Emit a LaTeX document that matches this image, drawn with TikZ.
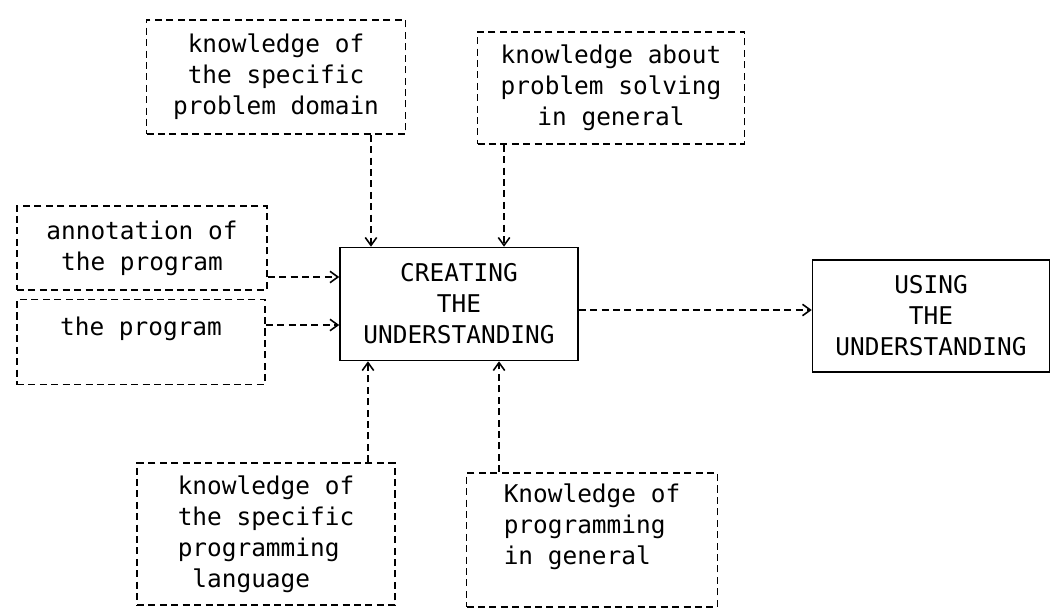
\documentclass[tikz,border=0pt]{standalone}
\usepackage{fontspec}
\usepackage{tikz}
\usetikzlibrary{arrows.meta}
\newfontfamily\plotfont{DejaVu Sans Mono}

\tikzset{
  kbox/.style={draw,dashed,dash pattern=on 4pt off 2.5pt,line width=0.9pt,
    font=\plotfont\fontsize{13.9}{17.6}\selectfont,inner sep=2pt},
  ubox/.style={draw,line width=0.9pt,
    font=\plotfont\fontsize{13.9}{17.6}\selectfont,align=center,inner sep=2pt},
  arr/.style={-{Straight Barb[length=4.5pt,width=6.5pt]},dashed,dash pattern=on 4pt off 2.5pt,line width=0.9pt}
}

\begin{document}
\begin{tikzpicture}[x=0.02cm,y=-0.02cm]
            \useasboundingbox (0,0) rectangle (1055,613);

            \node[ubox,minimum width=4.76cm,minimum height=2.26cm] (creat) at (459,304) {CREATING\\THE\\UNDERSTANDING};
            \node[ubox,minimum width=4.74cm,minimum height=2.24cm] (using) at (931,316) {USING\\THE\\UNDERSTANDING};

            \node[kbox,align=center,minimum width=5.18cm,minimum height=2.28cm] (domain) at (276,77) {knowledge of\\the specific\\problem domain};
            \node[kbox,align=center,minimum width=5.34cm,minimum height=2.24cm] (solving) at (611,88) {knowledge about\\problem solving\\in general};
            \node[kbox,align=center,minimum width=5cm,minimum height=1.68cm] (annot) at (142,248) {annotation of\\the program};
            \node[kbox,align=center,minimum width=4.96cm,minimum height=1.7cm] (prog) at (141,342) {the program\\\mbox{}};
            \node[kbox,align=left,minimum width=5.16cm,minimum height=2.84cm] (lang) at (266,534) {knowledge of\\the specific\\programming\\\hphantom{l}language};
            \node[kbox,align=left,minimum width=5.02cm,minimum height=2.68cm] (general) at (592,540) {Knowledge of\\programming\\in general\\\mbox{}};

            % knowledge flowing into the understanding
            \draw[arr] ([xshift=1.9cm]domain.south) -- ([xshift=1.9cm]domain.south |- creat.north);
            \draw[arr] ([xshift=-2.14cm]solving.south) -- ([xshift=-2.14cm]solving.south |- creat.north);
            \draw[arr] ([yshift=-0.58cm]annot.east) -- ([yshift=-0.58cm]annot.east -| creat.west);
            \draw[arr] ([yshift=0.34cm]prog.east) -- ([yshift=0.34cm]prog.east -| creat.west);
            \draw[arr] ([xshift=2.04cm]lang.north) -- ([xshift=2.04cm]lang.north |- creat.south);
            \draw[arr] ([xshift=-1.86cm]general.north) -- ([xshift=-1.86cm]general.north |- creat.south);

            \draw[arr] ([yshift=-0.12cm]creat.east) -- ([yshift=-0.12cm]creat.east -| using.west);
\end{tikzpicture}
\end{document}
